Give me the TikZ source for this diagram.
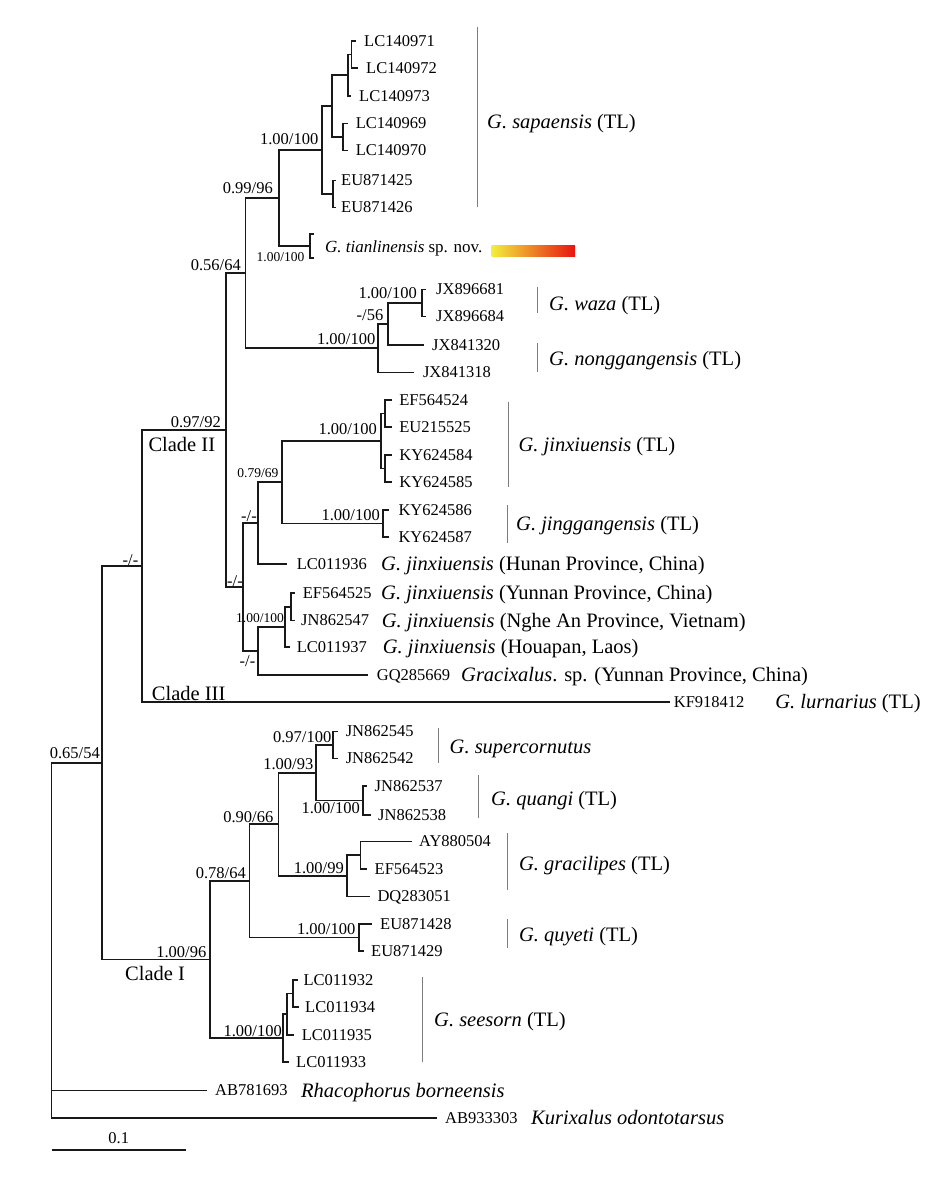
\documentclass[tikz,border=0pt]{standalone}
\usepackage{fontspec}
\setmainfont{Liberation Serif}
\definecolor{cbY}{RGB}{242,238,60}
\definecolor{cbO}{RGB}{246,120,30}
\definecolor{cbR}{RGB}{232,20,15}
\definecolor{barg}{RGB}{125,125,125}
\newcommand{\leaf}[5]{\coordinate (#1) at (#2,#3); \node[acc] (#1L) at (#4,#3) {#5};}
\begin{document}
\begin{tikzpicture}[x=1pt,y=-1pt,
  br/.style={line width=1.75pt,draw=black!90},
  bar/.style={draw=barg,line width=0.9pt},
  acc/.style={anchor=west,inner sep=0pt,font=\fontsize{16.5}{18}\selectfont,text height=10.9pt,text depth=0pt},
  spn/.style={anchor=west,inner sep=0pt,font=\fontsize{20.5}{24}\selectfont,text height=13.5pt,text depth=0pt},
  spsm/.style={anchor=west,inner sep=0pt,font=\fontsize{17}{20}\selectfont,text height=11.2pt,text depth=0pt},
  bs/.style={anchor=base east,inner sep=0pt,font=\fontsize{16.5}{18}\selectfont},
  bssm/.style={anchor=base east,inner sep=0pt,font=\fontsize{13.5}{15}\selectfont},
  clade/.style={anchor=base west,inner sep=0pt,font=\fontsize{20.5}{24}\selectfont}]
\useasboundingbox (0,0) rectangle (937,1200);
\fill[white] (0,0) rectangle (937,1200);

% ---------- leaves ----------
\leaf{s971}{356}{41}{364}{LC140971}
\leaf{s972}{358}{68}{366}{LC140972}
\leaf{s973}{351}{96}{359}{LC140973}
\leaf{s969}{348}{123.5}{355.7}{LC140969}
\leaf{s970}{348}{150.5}{355.7}{LC140970}
\leaf{eu25}{335.5}{180.5}{341}{EU871425}
\leaf{eu26}{335.5}{207.5}{341}{EU871426}
\coordinate (tianA) at (314,234);
\coordinate (tianB) at (314,258);
\node[spsm] (tianL) at (325,247) {\textit{G. tianlinensis} sp. nov.};
\leaf{jx81}{426}{289.5}{436}{JX896681}
\leaf{jx84}{426}{316.5}{436}{JX896684}
\leaf{jx20}{424.3}{345}{432}{JX841320}
\leaf{jx18}{414.4}{372.5}{422.8}{JX841318}
\leaf{ef24}{392}{400}{399.2}{EF564524}
\leaf{eu15}{392}{427}{399.2}{EU215525}
\leaf{ky84}{392}{455}{399.2}{KY624584}
\leaf{ky85}{392}{482}{399.2}{KY624585}
\leaf{ky86}{389}{510}{398.3}{KY624586}
\leaf{ky87}{389}{537}{398.3}{KY624587}
\leaf{lc36}{286.7}{564}{296.7}{LC011936}
\leaf{ef25}{295}{593}{302.7}{EF564525}
\leaf{jn47}{295}{620.5}{301}{JN862547}
\leaf{lc37}{290}{647}{296.7}{LC011937}
\leaf{gq}{368.3}{675}{376.7}{GQ285669}
\leaf{kf}{670.2}{702}{673.7}{KF918412}
\leaf{jn45}{338}{731.5}{345.6}{JN862545}
\leaf{jn42}{338}{758.5}{345.6}{JN862542}
\leaf{jn37}{367.4}{786}{374.5}{JN862537}
\leaf{jn38}{370.5}{815}{378}{JN862538}
\leaf{ay}{411.8}{841.5}{418.9}{AY880504}
\leaf{ef23}{366.7}{869}{374.5}{EF564523}
\leaf{dq}{369.5}{896.5}{377.3}{DQ283051}
\leaf{eu28}{372}{924}{380}{EU871428}
\leaf{eu29}{363.5}{951}{371}{EU871429}
\leaf{lc32}{297.7}{980}{303.3}{LC011932}
\leaf{lc34}{299}{1007}{305}{LC011934}
\leaf{lc35}{294}{1035}{301.7}{LC011935}
\leaf{lc33}{289.3}{1062}{296}{LC011933}
\leaf{ab81}{206.7}{1090.5}{215}{AB781693}
\leaf{ab03}{436.7}{1118}{445}{AB933303}

% ---------- internal nodes ----------
\coordinate (n1) at (351.5,54.5);
\coordinate (nA) at (348.3,75.25);
\coordinate (n2) at (343.3,137);
\coordinate (nB) at (332.3,106.1);
\coordinate (nEU) at (332.7,194);
\coordinate (nC) at (322.3,150.05);
\coordinate (nT) at (310,246);
\coordinate (nD) at (279,198);
\coordinate (nJ) at (422.1,303);
\coordinate (nI) at (387.9,324);
\coordinate (nH) at (378.1,348.25);
\coordinate (nE) at (245.5,273.1);
\coordinate (nK1) at (385,413.5);
\coordinate (nK2) at (385,468.5);
\coordinate (nK) at (381,441);
\coordinate (nM) at (383.3,523.5);
\coordinate (nL) at (281.7,482.25);
\coordinate (nN) at (257.7,523.1);
\coordinate (nQ) at (291,606.75);
\coordinate (nP) at (285,626.9);
\coordinate (nO) at (257.7,650.9);
\coordinate (nG) at (243.3,587);
\coordinate (nF) at (226,430.05);
\coordinate (nR) at (141.7,566);
\coordinate (nsc) at (333.2,745);
\coordinate (nqg) at (363.2,800.5);
\coordinate (nZ) at (316.3,772.75);
\coordinate (ngs) at (360.4,855.25);
\coordinate (ngr) at (347.3,875.9);
\coordinate (nY) at (278.6,824.3);
\coordinate (nqy) at (359,937.5);
\coordinate (nX) at (249.6,880.9);
\coordinate (nW) at (293.3,993.5);
\coordinate (nV) at (287.3,1014.25);
\coordinate (nU) at (283.3,1038.1);
\coordinate (nT1) at (210,959.5);
\coordinate (nS) at (102,762.75);
\coordinate (root) at (51.5,940);

% ---------- branches ----------
\foreach \p/\c in {n1/s971,n1/s972,nA/n1,nA/s973,n2/s969,n2/s970,nB/nA,nB/n2,
  nEU/eu25,nEU/eu26,nC/nB,nC/nEU,nT/tianA,nT/tianB,nD/nC,nD/nT,
  nJ/jx81,nJ/jx84,nI/nJ,nI/jx20,nH/nI,nH/jx18,nE/nD,nE/nH,
  nK1/ef24,nK1/eu15,nK2/ky84,nK2/ky85,nK/nK1,nK/nK2,nM/ky86,nM/ky87,
  nL/nK,nL/nM,nN/nL,nN/lc36,nQ/ef25,nQ/jn47,nP/nQ,nP/lc37,nO/nP,nO/gq,
  nG/nN,nG/nO,nF/nE,nF/nG,nR/nF,nR/kf,
  nsc/jn45,nsc/jn42,nqg/jn37,nqg/jn38,nZ/nsc,nZ/nqg,ngs/ay,ngs/ef23,
  ngr/ngs,ngr/dq,nY/nZ,nY/ngr,nqy/eu28,nqy/eu29,nX/nY,nX/nqy,
  nW/lc32,nW/lc34,nV/nW,nV/lc35,nU/nV,nU/lc33,nT1/nX,nT1/nU,
  nS/nR,nS/nT1,root/nS,root/ab81,root/ab03}
  \draw[br] (\p) |- (\c);

% ---------- support values ----------
\node[bs] (bC) at (318.5,144.4) {1.00/100};
\node[bs] (bD) at (273,193.7) {0.99/96};
\node[bssm] (bT) at (304.5,261.2) {1.00/100};
\node[bs] (bE) at (241,270.4) {0.56/64};
\node[bs] (bF) at (221,427) {0.97/92};
\node[bs] (bH) at (375.5,344.7) {1.00/100};
\node[bs] (bI) at (383.5,320.4) {-/56};
\node[bs] (bJ) at (417,298.7) {1.00/100};
\node[bs] (bK) at (377,434.7) {1.00/100};
\node[bssm] (bL) at (278.5,477.2) {0.79/69};
\node[bs] (bM) at (380,520.4) {1.00/100};
\node[bs] (bN) at (257,521.5) {-/-};
\node[bs] (bG) at (243,586) {-/-};
\node[bssm] (bP) at (284,622.8) {1.00/100};
\node[bs] (bO) at (255.5,666.4) {-/-};
\node[bs] (bR) at (138.5,565.4) {-/-};
\node[bs] (bS) at (100,758.7) {0.65/54};
\node[bs] (bsc) at (331.5,742.7) {0.97/100};
\node[bs] (bZ) at (313.5,769.7) {1.00/93};
\node[bs] (bqg) at (360,813.7) {1.00/100};
\node[bs] (bY) at (273.5,822.1) {0.90/66};
\node[bs] (bgr) at (344,873.7) {1.00/99};
\node[bs] (bX) at (246,878.1) {0.78/64};
\node[bs] (bqy) at (355.5,934.7) {1.00/100};
\node[bs] (bT1) at (206.5,957.1) {1.00/96};
\node[bs] (bU) at (282,1036.1) {1.00/100};

% ---------- clade labels ----------
\node[clade] (c2) at (148.3,451.8) {Clade II};
\node[clade] (c3) at (151.7,700.1) {Clade III};
\node[clade] (c1) at (125,980.1) {Clade I};

% ---------- species bars ----------
\foreach \nm/\x/\ya/\yb in {sap/477.7/26.7/206.7, waza/537.4/286.7/313.3, nong/537.4/343.3/371.7,
  jinx/508.5/401.7/486.7, jingg/507.4/505/543.3, super/438/728.3/762.7, quangi/478.5/775/818.3,
  grac/507.4/833.3/890, quyeti/507.4/919.3/947.7, seesorn/422/976.7/1061.7}
  { \coordinate (\nm T) at (\x,\ya); \coordinate (\nm B) at (\x,\yb); \draw[bar] (\nm T) -- (\nm B); }

% ---------- species labels ----------
\node[spn] (lsap) at (487,121.7) {\textit{G. sapaensis} (TL)};
\node[spn] (lwaza) at (549,303.3) {\textit{G. waza} (TL)};
\node[spn] (lnong) at (549,358.3) {\textit{G. nonggangensis} (TL)};
\node[spn] (ljinx) at (518.4,445) {\textit{G. jinxiuensis} (TL)};
\node[spn] (ljingg) at (516,523.3) {\textit{G. jinggangensis} (TL)};
\node[spn] (lhunan) at (381,564) {\textit{G. jinxiuensis} (Hunan Province, China)};
\node[spn] (lyun) at (381,593) {\textit{G. jinxiuensis} (Yunnan Province, China)};
\node[spn] (lnghe) at (381.7,620.5) {\textit{G. jinxiuensis} (Nghe An Province, Vietnam)};
\node[spn] (llaos) at (382.7,647) {\textit{G. jinxiuensis} (Houapan, Laos)};
\node[spn] (lgq) at (461,675) {\textit{Gracixalus}. sp. (Yunnan Province, China)};
\node[spn] (llurn) at (775.2,702) {\textit{G. lurnarius} (TL)};
\node[spn] (lsuper) at (449.5,746.7) {\textit{G. supercornutus}};
\node[spn] (lquangi) at (491,798.3) {\textit{G. quangi} (TL)};
\node[spn] (lgrac) at (518.8,863.3) {\textit{G. gracilipes} (TL)};
\node[spn] (lquyeti) at (518.8,935) {\textit{G. quyeti} (TL)};
\node[spn] (lsees) at (434,1020) {\textit{G. seesorn} (TL)};
\node[spn] (lrhaco) at (301,1090.5) {\textit{Rhacophorus borneensis}};
\node[spn] (lkuri) at (531,1118) {\textit{Kurixalus odontotarsus}};

% ---------- colour bar ----------
\shade[left color=cbY, middle color=cbO, right color=cbR] (491.7,245) rectangle (575,256.7);

% ---------- scale bar ----------
\coordinate (sb1) at (51.7,1150);
\coordinate (sb2) at (185.7,1150);
\draw[br] (sb1) -- (sb2);
\node[anchor=base,inner sep=0pt,font=\fontsize{16.5}{18}\selectfont] (sbl) at (118.7,1143.4) {0.1};
\end{tikzpicture}
\end{document}
